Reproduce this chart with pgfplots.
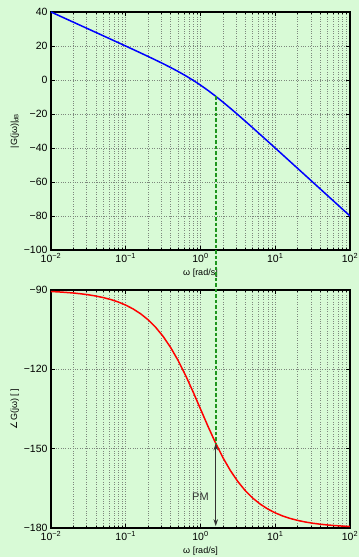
\documentclass[border=0pt]{standalone}
\usepackage{fontspec}
\setmainfont{Liberation Sans}
\newfontfamily\dejavu{DejaVu Sans}
\usepackage{pgfplots}
\pgfplotsset{compat=1.18}
\usepackage{pgfplotstable}
\usetikzlibrary{arrows.meta}

\definecolor{bgmint}{RGB}{216,250,214}
\definecolor{pmgreen}{RGB}{30,150,30}
\definecolor{gridgray}{RGB}{125,135,125}

% Frequency response of G(s) = 1/(s(s+1))
\pgfplotstableread{
w          mag      phase
0.01       40.000   -90.57
0.012589   37.999   -90.72
0.015849   35.999   -90.91
0.019953   33.998   -91.14
0.025119   31.997   -91.44
0.031623   29.996   -91.81
0.039811   27.993   -92.28
0.050119   25.989   -92.87
0.063096   23.983   -93.61
0.079433   21.973   -94.54
0.1        19.957   -95.71
0.125893   17.932   -97.18
0.158489   15.892   -99.01
0.199526   13.830   -101.28
0.251189   11.734   -104.10
0.316228    9.586   -107.55
0.398107    7.361   -111.71
0.501187    5.027   -116.62
0.630957    2.545   -122.25
0.794328   -0.124   -128.46
1          -3.010   -135.00
1.258925   -6.124   -141.54
1.584893   -9.455   -147.75
1.995262  -12.974   -153.38
2.511886  -16.639   -158.29
3.162278  -20.414   -162.45
3.981072  -24.266   -165.90
5.011872  -28.170   -168.72
6.309573  -32.108   -170.99
7.943282  -36.068   -172.82
10        -40.043   -174.29
12.589254 -44.027   -175.46
15.848932 -48.017   -176.39
19.952623 -52.011   -177.13
25.118864 -56.007   -177.72
31.622777 -60.004   -178.19
39.810717 -64.003   -178.56
50.118723 -68.002   -178.86
63.095734 -72.001   -179.09
79.432823 -76.001   -179.28
100       -80.000   -179.43
}\bode

\pgfplotsset{
  bodestyle/.style={
    scale only axis,
    width=299pt, height=238pt,
    xmin=0.01, xmax=100,
    xtick={0.01,0.1,1,10,100},
    xticklabels={10\textsuperscript{−2},10\textsuperscript{−1},10\textsuperscript{0},10\textsuperscript{1},10\textsuperscript{2}},
    minor xtick={0.02,0.03,0.04,0.05,0.06,0.07,0.08,0.09,
                 0.2,0.3,0.4,0.5,0.6,0.7,0.8,0.9,
                 2,3,4,5,6,7,8,9,
                 20,30,40,50,60,70,80,90},
    xmajorgrids, xminorgrids, ymajorgrids,
    major grid style={gridgray, line width=0.6pt, dash pattern=on 0.6pt off 1.8pt},
    minor grid style={gridgray, line width=0.6pt, dash pattern=on 0.6pt off 1.8pt},
    tick align=inside,
    major tick length=4pt, minor tick length=2pt,
    every tick/.style={black, line width=0.6pt},
    axis line style={black, line width=1.3pt},
    tick label style={font=\fontsize{10.5}{12}\selectfont, black},
    label style={font=\fontsize{9}{10}\selectfont, black},
    xlabel={ω [rad/s]},
    xlabel style={yshift=1pt},
    ylabel style={yshift=-2pt},
  }
}

\begin{document}
\begin{tikzpicture}
\fill[bgmint] (0,0) rectangle (359pt,557pt);
\useasboundingbox (0,0) rectangle (359pt,557pt);

% magnitude
\begin{semilogxaxis}[bodestyle,
    at={(51pt,307pt)}, anchor=south west,
    ymin=-100, ymax=40,
    ytick={-100,-80,-60,-40,-20,0,20,40},
    yticklabels={−100,−80,−60,−40,−20,0,20,40},
    ylabel={|G(jω)|\textsubscript{dB}},
  ]
  \addplot[blue, line width=1.5pt] table[x=w, y=mag] {\bode};
  \coordinate (gc) at (axis cs:1.6,-9.54);
\end{semilogxaxis}

% phase
\begin{semilogxaxis}[bodestyle,
    at={(51pt,29pt)}, anchor=south west,
    ymin=-180, ymax=-90,
    ytick={-180,-150,-120,-90},
    yticklabels={−180,−150,−120,−90},
    ylabel={{\dejavu ∠}G(jω) [ ]},
  ]
  \addplot[red, line width=1.5pt] table[x=w, y=phase] {\bode};
  \coordinate (pc) at (axis cs:1.6,-148.0);
  \draw[{Stealth[length=7pt,width=4.5pt]}-{Stealth[length=7pt,width=4.5pt]}, black!80, line width=1.3pt]
    (axis cs:1.6,-179.3) -- (axis cs:1.6,-148.0);
  \node[font=\fontsize{11}{12}\selectfont, black!80] at (axis cs:1.0,-168.3) {PM};
\end{semilogxaxis}

% crossover frequency marker joining both panels
\draw[pmgreen, line width=1.5pt, dash pattern=on 3.5pt off 2pt] (gc) -- (pc);
\end{tikzpicture}
\end{document}
